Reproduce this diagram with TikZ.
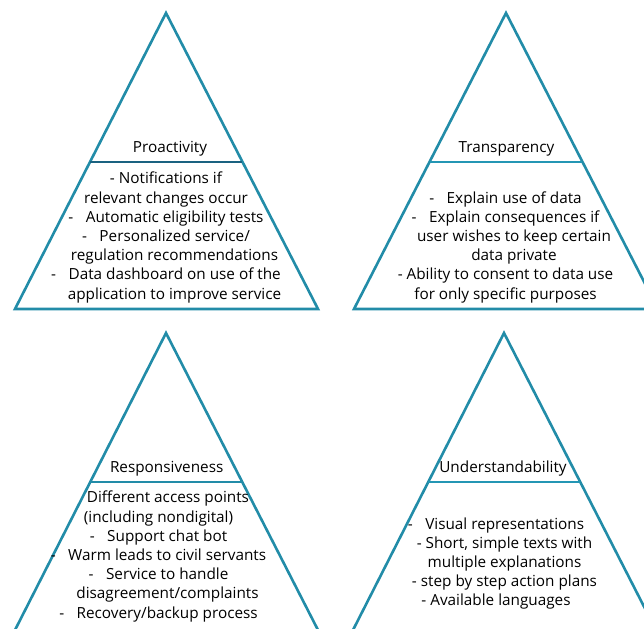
\documentclass[tikz,border=0pt]{standalone}
\usepackage{fontspec}
\setmainfont{Open Sans}
\definecolor{edge}{RGB}{34,140,168}
\definecolor{darkdiv}{RGB}{26,98,128}
\definecolor{lightdiv}{RGB}{36,150,180}
\tikzset{
  tri/.style={draw=edge, line width=2.6pt, line join=miter},
  divline/.style={line width=1.8pt},
  title/.style={font=\fontsize{15.3}{19.2}\selectfont, inner sep=0pt, text=black},
  body/.style={font=\fontsize{15.3}{19.2}\selectfont, inner sep=0pt, align=center, text=black},
}
\newcommand{\dsh}{-\hspace{12.5pt}}
\newcommand{\rs}[1]{\hspace*{#1}}
\begin{document}
\begin{tikzpicture}[x=1pt,y=-1pt]
\useasboundingbox (0,0) rectangle (644,628);
\clip (0,0) rectangle (644,628);
% top-left
\coordinate (a1) at (166,13); \coordinate (l1) at (15,309); \coordinate (r1) at (318,309);
\draw[tri] (a1) -- (l1) -- (r1) -- cycle;
\coordinate (d1l) at (90,162); \coordinate (d1r) at (242,162);
\draw[divline, draw=darkdiv] (d1l) -- (d1r);
\node[title] (t1) at (170,149) {Proactivity};
\node[body] (b1) at (166,237.5) {- Notifications if\\relevant changes occur\\\dsh Automatic eligibility tests\\\dsh Personalized service/\\\rs{17pt}regulation recommendations\\\dsh Data dashboard on use of the\\\rs{17pt}application to improve service};
% top-right
\coordinate (a2) at (506,13); \coordinate (l2) at (354,309); \coordinate (r2) at (658,309);
\draw[tri] (a2) -- (l2) -- (r2) -- cycle;
\coordinate (d2l) at (430,162); \coordinate (d2r) at (582,162);
\draw[divline, draw=lightdiv] (d2l) -- (d2r);
\node[title] (t2) at (506.5,149) {Transparency};
\node[body] (b2) at (505.5,247) {\dsh Explain use of data\\\dsh Explain consequences if\\\rs{17pt}user wishes to keep certain\\\rs{17pt}data private\\- Ability to consent to data use\\for only specific purposes};
% bottom-left
\coordinate (a3) at (166,333); \coordinate (l3) at (14,632); \coordinate (r3) at (319,632);
\draw[tri] (a3) -- (l3) -- (r3) -- cycle;
\coordinate (d3l) at (90,482); \coordinate (d3r) at (242,482);
\draw[divline, draw=edge] (d3l) -- (d3r);
\node[title] (t3) at (166.7,469) {Responsiveness};
\node[body] (b3) at (158.5,556.5) {\rs{19pt}Different access points\\(including nondigital)\\\dsh Support chat bot\\\dsh Warm leads to civil servants\\\dsh Service to handle\\\rs{18pt}disagreement/complaints\\\dsh Recovery/backup process};
% bottom-right
\coordinate (a4) at (504,333); \coordinate (l4) at (352,632); \coordinate (r4) at (657,632);
\draw[tri] (a4) -- (l4) -- (r4) -- cycle;
\coordinate (d4l) at (428,482); \coordinate (d4r) at (580,482);
\draw[divline, draw=lightdiv] (d4l) -- (d4r);
\node[title] (t4) at (503,469) {Understandability};
\node[body] (b4) at (496,563.5) {\dsh Visual representations\\\rs{17pt}- Short, simple texts with\\\rs{17pt}multiple explanations\\\rs{17pt}- step by step action plans\\- Available languages};
\end{tikzpicture}
\end{document}
